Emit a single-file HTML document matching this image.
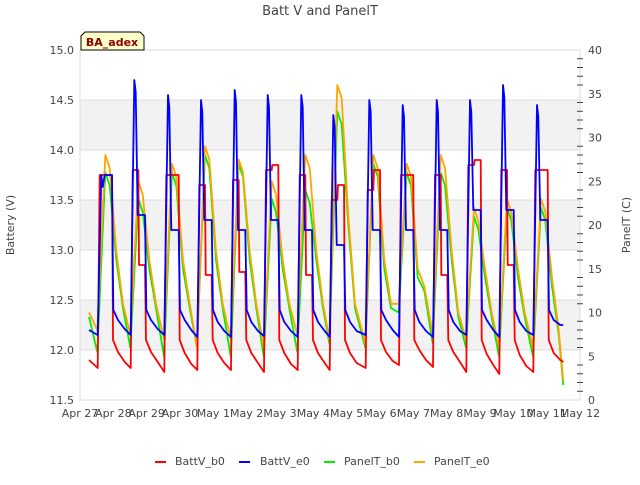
<!DOCTYPE html>
<html><head><meta charset="utf-8"><style>
body{margin:0;background:#fff;font-family:"Liberation Sans","DejaVu Sans",sans-serif;}
svg text{font-family:"DejaVu Sans","Liberation Sans",sans-serif;}
</style></head><body>
<svg id="chart" width="640" height="480" xmlns="http://www.w3.org/2000/svg">
<rect x="0" y="0" width="640" height="480" fill="#fff"/>
<text x="320" y="15" text-anchor="middle" font-size="13" fill="#444">Batt V and PanelT</text>
<g id="bands"></g>
<g id="grid"></g>
<g id="series"></g>
<g id="axes"></g>
<g>
<path d="M81,50 L81,36 L85,32 L140,32 L144,36 L144,50 Z" fill="#ffffcc" stroke="#000" stroke-width="1"/>
<text x="112" y="46" text-anchor="middle" font-size="11" font-weight="bold" fill="#8b0000">BA_adex</text>
</g>
<text x="14" y="225" transform="rotate(-90 14 225)" text-anchor="middle" font-size="11" fill="#444">Battery (V)</text>
<text x="630" y="225" transform="rotate(-90 630 225)" text-anchor="middle" font-size="11" fill="#444">PanelT (C)</text>
<g font-size="11" fill="#444">
<g><line x1="155" y1="462" x2="166" y2="462" stroke="#ff0000" stroke-width="2"/><text x="175" y="465">BattV_b0</text></g>
<g><line x1="239" y1="462" x2="250" y2="462" stroke="#0000ff" stroke-width="2"/><text x="260" y="465">BattV_e0</text></g>
<g><line x1="324" y1="462" x2="335" y2="462" stroke="#00ee00" stroke-width="2"/><text x="344" y="465">PanelT_b0</text></g>
<g><line x1="414" y1="462" x2="425" y2="462" stroke="#ffa500" stroke-width="2"/><text x="434" y="465">PanelT_e0</text></g>
</g>
</svg>
<script>
const xLabels=["Apr 27","Apr 28","Apr 29","Apr 30","May 1","May 2","May 3","May 4","May 5","May 6","May 7","May 8","May 9","May 10","May 11","May 12"];
const leftTicks=[11.5,12,12.5,13,13.5,14,14.5,15];
const rightTicks=[0,5,10,15,20,25,30,35,40];
const riseDays=[0.54,1.53,2.54,3.53,4.54,5.53,6.54,7.5,8.58,9.58,10.6,11.6,12.59,13.61];
const redMin=[11.82,11.82,11.78,11.8,11.8,11.78,11.8,11.8,11.82,11.85,11.83,11.78,11.76,11.78];
const redTop=[13.75,13.8,13.75,13.65,13.7,13.8,13.75,13.5,13.6,13.75,13.75,13.85,13.8,13.8];
const redPlat=[13.75,12.85,13.75,12.75,12.78,13.85,12.75,13.65,13.8,13.75,12.75,13.9,12.85,13.8];
const redEve=[11.98,11.98,11.97,11.97,11.97,11.97,11.97,11.97,11.98,12.0,11.98,11.96,11.95,11.97];
const redLate=[11.88,11.88,11.86,11.87,11.87,11.86,11.87,11.87,11.89,11.9,11.88,11.85,11.84,11.9];
const blueMin=[12.15,12.15,12.15,12.13,12.13,12.14,12.13,12.13,12.15,12.13,12.13,12.15,12.13,12.15];
const blueTop=[13.75,14.7,14.55,14.5,14.6,14.55,14.55,14.35,14.5,14.45,14.5,14.5,14.65,14.45];
const bluePlat=[13.75,13.35,13.2,13.3,13.2,13.3,13.2,13.05,13.2,13.2,13.2,13.4,13.4,13.3];
const blueEve=[12.3,12.3,12.3,12.28,12.28,12.28,12.28,12.28,12.3,12.28,12.28,12.3,12.28,12.3];
const blueLate=[12.21,12.21,12.2,12.19,12.19,12.19,12.19,12.19,12.2,12.19,12.19,12.2,12.19,12.25];
const orangeMin=[8,7.5,7,6,7,6,7.5,7,6.5,11,7.5,7,6,6];
const orangeTop=[28,25,27,29,27.5,25,28,36,28,27,28,22,23,23];
const orangeMid=[17,16,16,17,17,16,17,21,16,15,17,15,15,14];
const orangeEve=[11,11,11,11,11,11,11,11,11,13,10,10,10,8];
const greenMin=[5.5,6,5,6,5,5,5.5,6.5,6,10,6.5,6,5,5];
const greenTop=[26,23,26,28,27,23,24,33,27,26,26,21,22,22];
const greenMid=[16,15,15,16,16,15,16,20,15,14,16,14,14,13];
const greenEve=[10.5,10.5,10.5,10.5,10.5,10.5,10.5,10.5,10.5,12.5,9.5,9.5,9.5,7.5];
const startDay=0.27, endDay=14.5;
const startVals={red:11.9,blue:12.2,green:9.5,orange:10};
const endVals={red:11.88,blue:12.25,green:1.7,orange:2.2};

const X0=80,X1=580,Y0=400,Y1=50;
const xS=d=>X0+(X1-X0)*d/15;
const yL=v=>Y0-(v-11.5)/3.5*(Y0-Y1);
const yR=v=>Y0-v/40*(Y0-Y1);
const NS="http://www.w3.org/2000/svg";
function mk(tag,attrs,parent){const e=document.createElementNS(NS,tag);for(const k in attrs)e.setAttribute(k,attrs[k]);parent.appendChild(e);return e;}
const bands=document.getElementById('bands'),grid=document.getElementById('grid'),axes=document.getElementById('axes'),ser=document.getElementById('series');
[12,13,14].forEach(v=>{const r=mk('rect',{x:X0,y:yL(v+0.5),width:X1-X0,height:yL(v)-yL(v+0.5),fill:'#f2f2f2'},bands);

});
leftTicks.forEach(v=>{const l=mk('line',{x1:X0,x2:X1,y1:yL(v),y2:yL(v),stroke:'#dcdcdc','stroke-width':1},grid);


const t=mk('text',{x:X0-6,y:yL(v)+4,'text-anchor':'end','font-size':11,fill:'#444'},axes);t.textContent=v.toFixed(1);

});
mk('rect',{x:X0,y:Y1,width:X1-X0,height:Y0-Y1,fill:'none',stroke:'#dcdcdc'},axes);
rightTicks.forEach(v=>{const t=mk('text',{x:X1+8,y:yR(v)+4,'font-size':11,fill:'#444'},axes);t.textContent=v;

});
for(let v=1;v<40;v++){if(v%5===0)continue;mk('line',{x1:X1-3,x2:X1+3,y1:yR(v),y2:yR(v),stroke:'#444'},axes);}
xLabels.forEach((s,i)=>{const t=mk('text',{x:xS(i),y:417,'text-anchor':'middle','font-size':11,fill:'#444'},axes);t.textContent=s;

});

function build(shape){const pts=[];for(let k=0;k<riseDays.length;k++){shape(k,riseDays[k]).forEach(p=>pts.push(p));}return pts;}
const redPts=[[startDay,startVals.red]].concat(build((k,r)=>[[r-0.01,redMin[k]],[r+0.05,redTop[k]],[r+0.22,redTop[k]],[r+0.24,redPlat[k]],[r+0.42,redPlat[k]],[r+0.45,12.1],[r+0.6,redEve[k]],[r+0.8,redLate[k]]]));
const bluePts=[[startDay,startVals.blue]].concat(build((k,r)=>[[r-0.01,blueMin[k]],[r+0.1,blueTop[k]],[r+0.14,blueTop[k]-0.12],[r+0.2,bluePlat[k]],[r+0.42,bluePlat[k]],[r+0.46,12.4],[r+0.6,blueEve[k]],[r+0.8,blueLate[k]]]));
const greenPts=[[startDay,startVals.green]].concat(build((k,r)=>[[r-0.02,greenMin[k]],[r+0.22,greenTop[k]],[r+0.35,greenTop[k]-1.5],[r+0.55,greenMid[k]],[r+0.75,greenEve[k]]]));
const orangePts=[[startDay,startVals.orange]].concat(build((k,r)=>[[r-0.02,orangeMin[k]],[r+0.22,orangeTop[k]],[r+0.35,orangeTop[k]-1.5],[r+0.55,orangeMid[k]],[r+0.75,orangeEve[k]]]));
redPts.push([endDay,endVals.red]);bluePts.push([endDay,endVals.blue]);greenPts.push([endDay,endVals.green]);orangePts.push([endDay,endVals.orange]);
function draw(pts,ys,color,name){const d=pts.map((p,i)=>(i?'L':'M')+xS(p[0]).toFixed(1)+','+ys(p[1]).toFixed(1)).join('');
const p=mk('path',{d:d,fill:'none',stroke:color,'stroke-width':1.8,'stroke-linejoin':'round'},ser);

}
draw(greenPts,yR,'#00ee00','series-panelt-b0');
draw(orangePts,yR,'#ffa500','series-panelt-e0');
draw(redPts,yL,'#ff0000','series-battv-b0');
draw(bluePts,yL,'#0000ff','series-battv-e0');
</script>
</body></html>
